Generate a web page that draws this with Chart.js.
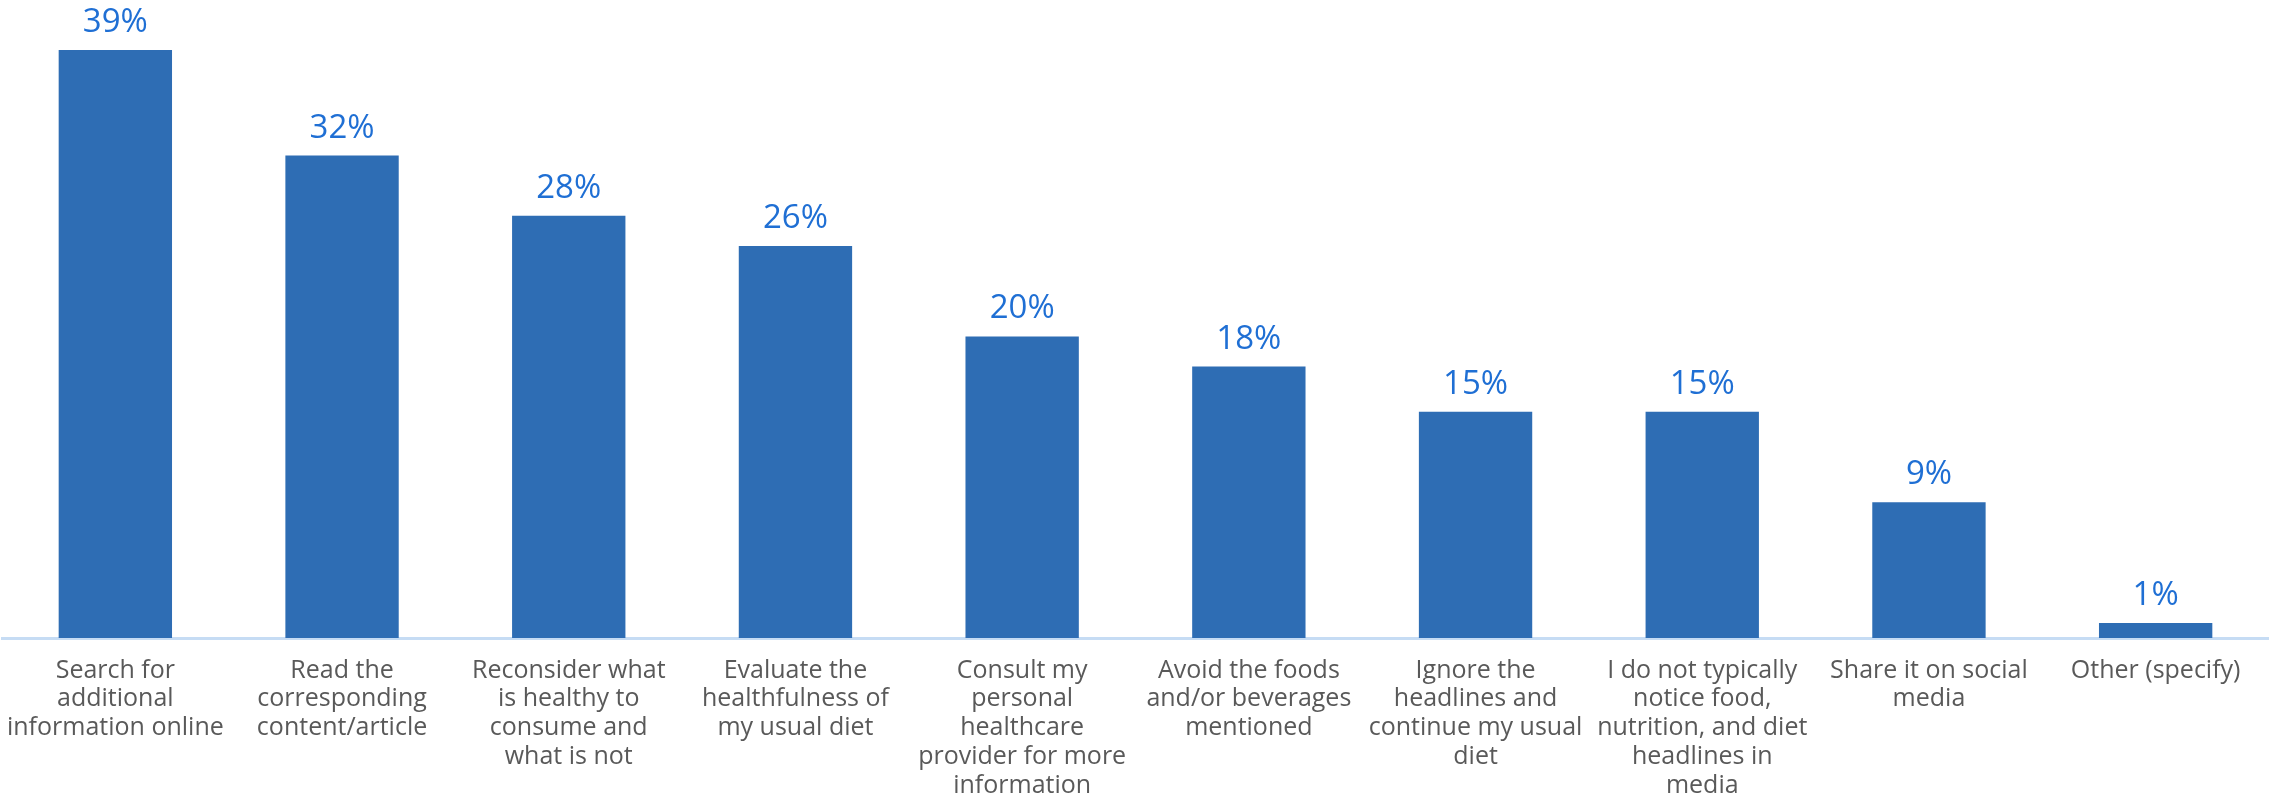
<!DOCTYPE html>
<html>
<head>
<meta charset="utf-8">
<script src="https://cdn.jsdelivr.net/npm/chart.js@4"></script>
<style>
  html, body { margin: 0; padding: 0; background: #fff; }
  #wrap { width: 2269px; height: 799px; }
</style>
</head>
<body>
<div id="wrap"><canvas id="chart"></canvas></div>
<script>
// Data
const categories = [
  ['Search for', 'additional', 'information online'],
  ['Read the', 'corresponding', 'content/article'],
  ['Reconsider what', 'is healthy to', 'consume and', 'what is not'],
  ['Evaluate the', 'healthfulness of', 'my usual diet'],
  ['Consult my', 'personal', 'healthcare', 'provider for more', 'information'],
  ['Avoid the foods', 'and/or beverages', 'mentioned'],
  ['Ignore the', 'headlines and', 'continue my usual', 'diet'],
  ['I do not typically', 'notice food,', 'nutrition, and diet', 'headlines in', 'media'],
  ['Share it on social', 'media'],
  ['Other (specify)']
];
const percents = [39, 32, 28, 26, 20, 18, 15, 15, 9, 1];

// value labels above the bars
const valueLabels = {
  id: 'valueLabels',
  afterDatasetsDraw(chart) {
    const ctx = chart.ctx;
    const meta = chart.getDatasetMeta(0);
    ctx.save();
    ctx.font = '33px "Open Sans"';
    ctx.fillStyle = '#1f6fd4';
    ctx.textAlign = 'center';
    ctx.textBaseline = 'alphabetic';
    meta.data.forEach((bar, i) => {
      ctx.fillText(percents[i] + '%', bar.x, bar.y - 18);
    });
    ctx.restore();
  }
};

new Chart(document.getElementById('chart'), {
  type: 'bar',
  data: {
    labels: categories,
    datasets: [{
      data: percents,
      backgroundColor: '#2e6db4',
      categoryPercentage: 0.5,
      barPercentage: 1
    }]
  },
  options: {
    responsive: true,
    maintainAspectRatio: false,
    animation: false,
    layout: { padding: { top: 50, left: 2, right: 0, bottom: 0 } },
    plugins: { legend: { display: false }, tooltip: { enabled: false } },
    scales: {
      x: {
        grid: { display: false, drawTicks: false },
        border: { display: true, color: '#c6dcf4', width: 3 },
        ticks: {
          color: '#595959',
          font: { family: 'Open Sans', size: 25, lineHeight: 1.15 },
          padding: 18,
          maxRotation: 0,
          autoSkip: false
        },
        afterFit(scale) {
          scale.height = 161;
          scale.paddingLeft = 0;
          scale.paddingRight = 0;
        }
      },
      y: {
        display: false,
        min: 0,
        max: 39
      }
    }
  },
  plugins: [valueLabels]
});
</script>
</body>
</html>
